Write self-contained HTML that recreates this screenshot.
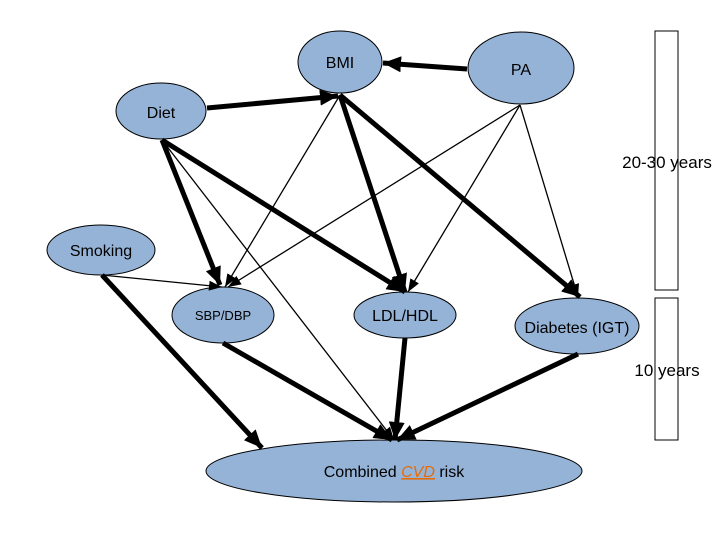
<!DOCTYPE html>
<html><head><meta charset="utf-8"><style>
html,body{margin:0;padding:0;background:#fff;}
svg{display:block;}
text{font-family:"Liberation Sans",sans-serif;fill:#000;}
</style></head><body>
<svg width="720" height="540" viewBox="0 0 720 540" xmlns="http://www.w3.org/2000/svg">
<defs>
<marker id="a" markerUnits="userSpaceOnUse" markerWidth="20" markerHeight="16" refX="18" refY="8" orient="auto"><path d="M0,0 L18,8 L0,16 Z" fill="#000"/></marker>
<marker id="b" markerUnits="userSpaceOnUse" markerWidth="14" markerHeight="10" refX="13" refY="5" orient="auto"><path d="M0,0 L13,5 L0,10 Z" fill="#000"/></marker>
</defs>
<g fill="#fff" stroke="#000" stroke-width="1">
<rect x="655" y="31" width="23" height="259"/>
<rect x="655" y="298" width="23" height="142"/>
</g>
<g fill="#95b3d7" stroke="#000" stroke-width="1">
<ellipse cx="340" cy="62" rx="42" ry="31"/>
<ellipse cx="521" cy="68" rx="53" ry="36"/>
<ellipse cx="161" cy="111" rx="45" ry="28"/>
<ellipse cx="101" cy="250" rx="54" ry="25"/>
<ellipse cx="223" cy="315" rx="51" ry="28"/>
<ellipse cx="405" cy="315" rx="51" ry="23"/>
<ellipse cx="577" cy="326" rx="62" ry="28"/>
<ellipse cx="394" cy="471" rx="188" ry="31"/>
</g>
<g stroke="#000" stroke-width="5" fill="none" marker-end="url(#a)">
<line x1="467" y1="69" x2="383" y2="63"/>
<line x1="207" y1="108" x2="338" y2="96"/>
<line x1="340" y1="95" x2="405" y2="292"/>
<line x1="340" y1="95" x2="580" y2="297"/>
<line x1="162" y1="140" x2="220" y2="285"/>
<line x1="162" y1="140" x2="405" y2="292"/>
<line x1="102" y1="275" x2="262" y2="448"/>
<line x1="223" y1="343" x2="392" y2="440"/>
<line x1="405" y1="338" x2="395" y2="440"/>
<line x1="578" y1="354" x2="397" y2="440"/>
</g>
<g stroke="#000" stroke-width="1.3" fill="none" marker-end="url(#b)">
<line x1="340" y1="95" x2="225" y2="287"/>
<line x1="520" y1="105" x2="228" y2="287"/>
<line x1="520" y1="105" x2="408" y2="292"/>
<line x1="520" y1="105" x2="578" y2="297"/>
<line x1="162" y1="140" x2="394" y2="440"/>
<line x1="102" y1="275" x2="222" y2="287"/>
</g>
<text x="340" y="68" font-size="16" text-anchor="middle">BMI</text>
<text x="521" y="75" font-size="16" text-anchor="middle">PA</text>
<text x="161" y="118" font-size="16" text-anchor="middle">Diet</text>
<text x="101" y="256" font-size="16" text-anchor="middle">Smoking</text>
<text x="223" y="320" font-size="13" text-anchor="middle">SBP/DBP</text>
<text x="405" y="321" font-size="16" text-anchor="middle">LDL/HDL</text>
<text x="577" y="333" font-size="16" text-anchor="middle">Diabetes (IGT)</text>
<text x="667" y="168" font-size="17" text-anchor="middle">20-30 years</text>
<text x="667" y="376" font-size="17" text-anchor="middle">10 years</text>
<text x="394" y="477" font-size="16" text-anchor="middle">Combined <tspan fill="#e46c0a" font-style="italic" text-decoration="underline">CVD</tspan> risk</text>
</svg>
</body></html>
